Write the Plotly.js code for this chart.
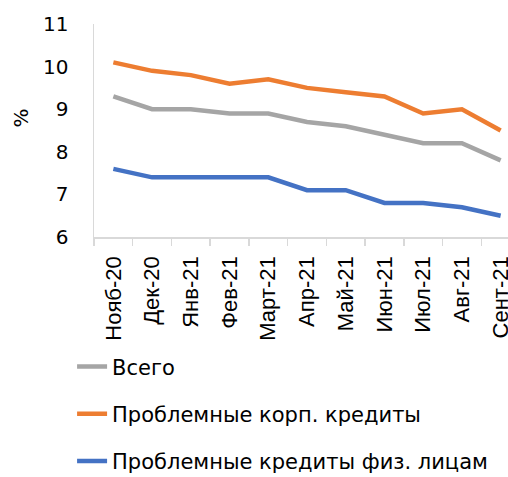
<!DOCTYPE html>
<html>
<head>
<meta charset="utf-8">
<script src="https://cdn.plot.ly/plotly-3.0.1.min.js"></script>
<style>
html,body{margin:0;padding:0;overflow:hidden;width:508px;height:477px;background:#fff;}
#chart{width:530px;height:477px;}
</style>
</head>
<body>
<div id="chart"></div>
<script>
const months = ["Нояб-20","Дек-20","Янв-21","Фев-21","Март-21","Апр-21","Май-21","Июн-21","Июл-21","Авг-21","Сент-21"];
const seriesNames = ["Всего","Проблемные корп. кредиты","Проблемные кредиты физ. лицам"];
const yTitle = "%";
const total = [9.3, 9.0, 9.0, 8.9, 8.9, 8.7, 8.6, 8.4, 8.2, 8.2, 7.8];
const corporate = [10.1, 9.9, 9.8, 9.6, 9.7, 9.5, 9.4, 9.3, 8.9, 9.0, 8.5];
const retail = [7.6, 7.4, 7.4, 7.4, 7.4, 7.1, 7.1, 6.8, 6.8, 6.7, 6.5];
const colors = ["#A5A5A5","#ED7D31","#4472C4"];
const values = [total, corporate, retail];

const traces = values.map((v,i)=>({
  x: months, y: v, type:'scatter', mode:'lines', name: seriesNames[i],
  legendgroup: 'g'+i,
  line:{color:colors[i], width:4.5}
}));

const layout = {
  width:530, height:477,
  margin:{l:94, r:10, t:24, b:240, autoexpand:false},
  paper_bgcolor:'#fff', plot_bgcolor:'#fff',
  showlegend:true,
  legend:{orientation:'v', xref:'container', yref:'container', x:0.136, y:0.274, xanchor:'left', yanchor:'top',
    traceorder:'grouped', tracegroupgap:17,
    font:{family:'DejaVu Sans', size:21, color:'#000'}},
  xaxis:{type:'category', range:[-0.5,10.5], tickangle:-90, tickson:'boundaries',
    ticks:'outside', ticklen:7, tickcolor:'#D9D9D9', tickwidth:1.5,
    showline:true, linecolor:'#D9D9D9', linewidth:1.5, showgrid:false, zeroline:false,
    ticklabelstandoff:9,
    tickfont:{family:'Liberation Sans', size:22, color:'#000'}, fixedrange:true},
  yaxis:{range:[6,11], dtick:1, showline:true, linecolor:'#D9D9D9', linewidth:1.5,
    showgrid:false, zeroline:false, ticks:'', ticklabelstandoff:20,
    tickfont:{family:'DejaVu Sans', size:20, color:'#000'}},
  annotations:[{text:yTitle, xref:'paper', yref:'paper', x:-0.172, y:0.56, xanchor:'center', yanchor:'middle',
    textangle:-90, showarrow:false, font:{family:'DejaVu Sans', size:20, color:'#000'}}]
};
Plotly.newPlot('chart', traces, layout, {displayModeBar:false, staticPlot:true});
</script>
</body>
</html>
